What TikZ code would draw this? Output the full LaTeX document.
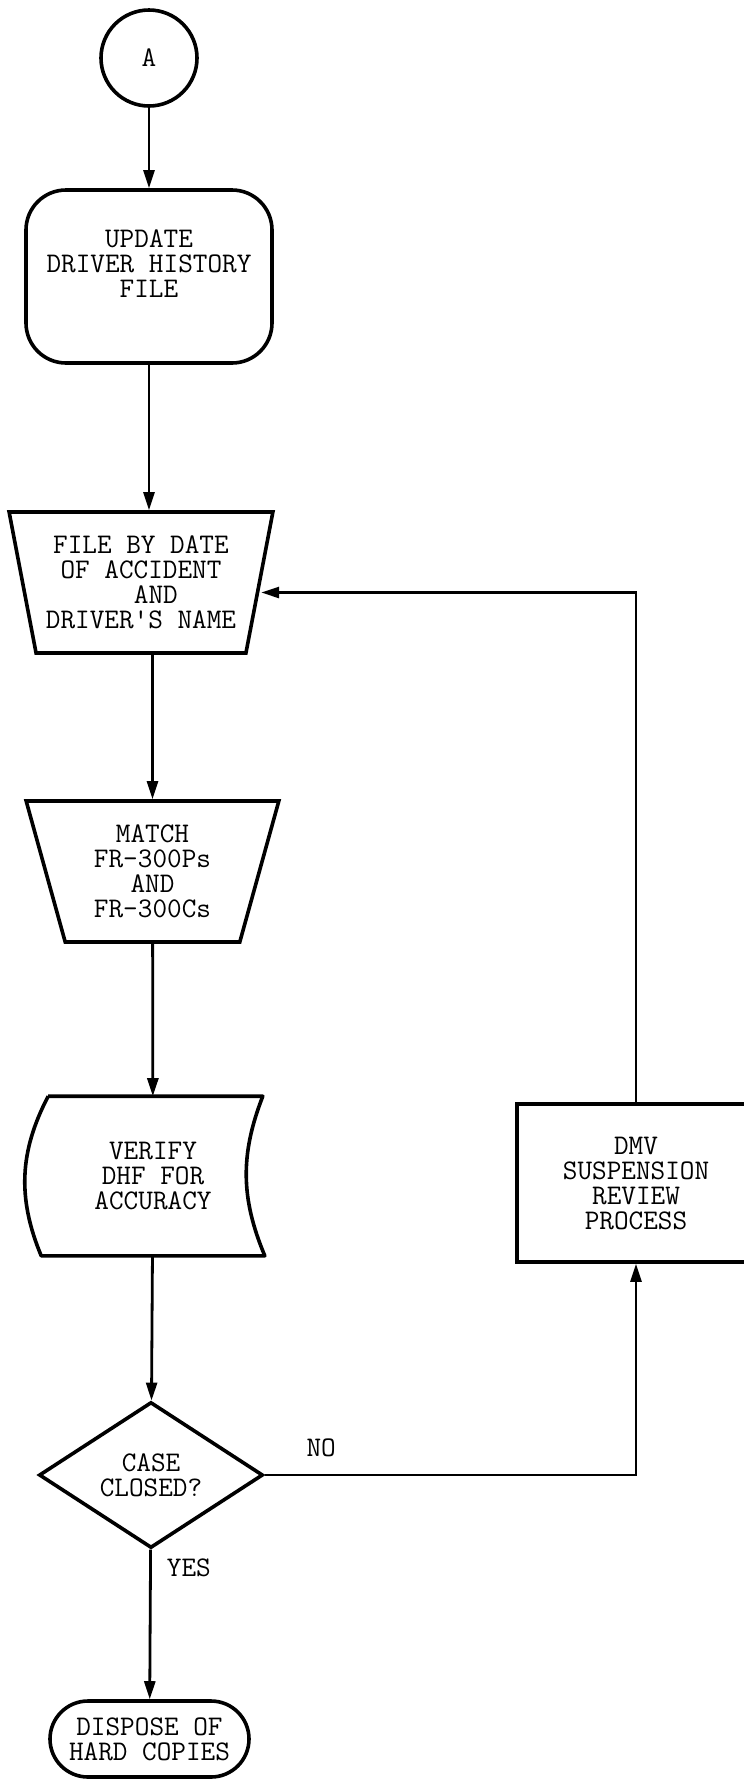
\documentclass[tikz,border=0pt]{standalone}
\usepackage{fontspec}
\usetikzlibrary{shapes.geometric, positioning, arrows.meta}
\tikzset{
    >={Triangle[length=9pt, width=5.5pt]}, % Solid arrowheads
    x=0.5pt, y=-0.5pt, % One unit is one pixel of the page
    box/.style={draw, line width=1.8pt, inner sep=0pt, align=center,
        font=\ttfamily\fontsize{14.2}{12.5}\selectfont},
    trap/.style={box, trapezium, shape border rotate=180,
        trapezium stretches=true, minimum height=70.5pt}, % Manual input
    flow/.style={->, line width=1.4pt}, % Connectors
    lbl/.style={inner sep=2pt, font=\ttfamily\fontsize{14.2}{12.5}\selectfont},
}
\begin{document}
\begin{tikzpicture}
    \useasboundingbox (0,0) rectangle (744,1779);
    \clip (0,0) rectangle (744,1779);

    \node[box, circle, minimum size=48pt] (a) at (149,58) {A};
    \node[box, rounded corners=20pt, minimum width=123pt, minimum height=86.5pt]
        (upd) at (149,276.5) {UPDATE\\DRIVER HISTORY\\FILE\\\mbox{}};
    \node[trap, minimum width=132pt, trapezium left angle=75.3, trapezium right angle=75.3]
        (file) at (141,582.5) {FILE BY DATE\\OF ACCIDENT\\\hspace*{14.9pt}AND\\DRIVER'S NAME};
    \node[trap, minimum width=126.5pt, trapezium left angle=74.3, trapezium right angle=74.3]
        (match) at (152.5,871.5) {MATCH\\FR-300Ps\\AND\\FR-300Cs};
    \node[box, draw=none, minimum width=110pt, minimum height=78pt]
        (verify) at (153,1176) {VERIFY\\DHF FOR\\ACCURACY};
    \node[box, diamond, aspect=1.53, minimum width=112pt, minimum height=73pt]
        (dec) at (151,1475) {CASE\\CLOSED?};
    \node[box, rounded corners=19pt, minimum width=99.5pt, minimum height=38pt]
        (dsp) at (149.5,1739) {DISPOSE OF\\HARD COPIES};
    \node[box, minimum width=119pt, minimum height=79pt]
        (dmv) at (636,1183) {DMV\\SUSPENSION\\REVIEW\\PROCESS};

    % curved sides of the display box
    \draw[line width=1.8pt, line join=round]
        ([xshift=3.5pt]verify.north west) -- ([xshift=-1pt]verify.north east)
        to[bend right=22] (verify.south east) -- (verify.south west)
        to[bend left=25] ([xshift=3.5pt]verify.north west);

    \path[flow]
        (a) edge (upd)
        (upd.south) edge (upd.south |- file.north)
        (file.south -| match.north) edge (match.north)
        (match) edge (verify)
        (verify) edge (dec)
        (dec) edge node[lbl, pos=0.12, right=5.5pt] (yes) {YES} (dsp);
    \draw[flow] (dec.east) -| node[lbl, pos=0.076, above=6.5pt] (no) {NO} (dmv.south);
    \draw[flow] (dmv.north) |- ([yshift=-5pt]file.east);
\end{tikzpicture}
\end{document}
